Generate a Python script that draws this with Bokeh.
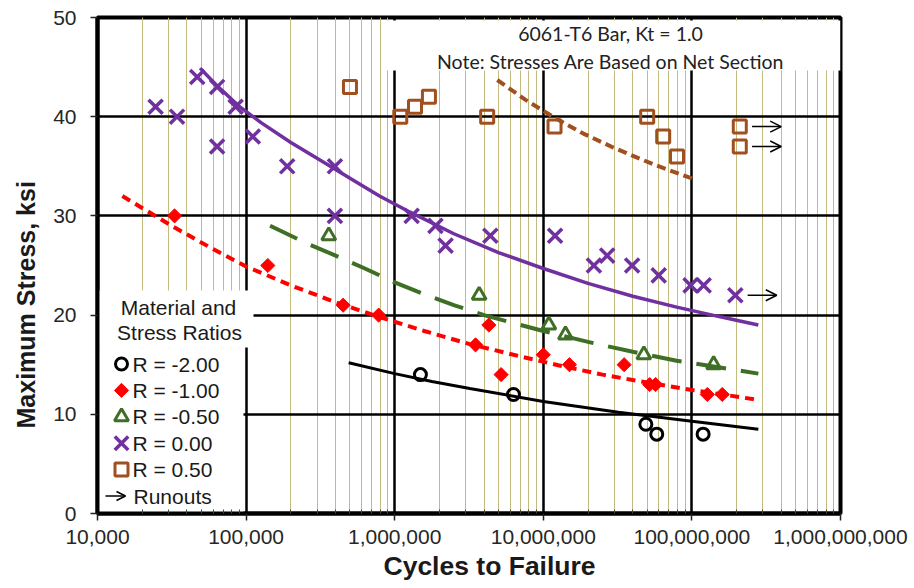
import math
from bokeh.plotting import figure
from bokeh.models import (Range1d, LinearScale, NumeralTickFormatter, FixedTicker,
                          Title, Arrow, OpenHead, ColumnDataSource)
from bokeh.core.properties import value
from bokeh.embed import file_html
from bokeh.resources import INLINE

# ---------------- data ----------------
# R = -2.00
rm2_N = [1.49e6, 6.3e6, 4.9e7, 5.8e7, 1.19e8]
rm2_S = [14, 12, 9, 8, 8]
rm2_fit_N = [4.9e5, 1e6, 1.78e6, 3.2e6, 1e7, 3.2e7, 1e8, 2.8e8]
rm2_fit_S = [15.2, 14.1, 13.3, 12.6, 11.3, 10.2, 9.3, 8.5]

# R = -1.00
rm1_N = [3.3e4, 1.4e5, 4.5e5, 7.8e5, 3.5e6, 4.3e6, 5.2e6, 1.0e7, 1.5e7, 3.5e7, 5.2e7, 5.7e7, 1.27e8, 1.6e8]
rm1_S = [30, 25, 21, 20, 17, 19, 14, 16, 15, 15, 13, 13, 12, 12]
rm1_fit_N = [1.47e4, 3.16e4, 5.6e4, 1e5, 2e5, 4e5, 7.9e5, 1.58e6, 3.16e6, 6.3e6,
             1.26e7, 2.5e7, 5e7, 1e8, 1.78e8, 2.8e8]
rm1_fit_S = [32.0, 29.0, 26.9, 24.9, 23.0, 21.3, 19.8, 18.4, 17.1, 16.0,
             14.95, 14.0, 13.2, 12.45, 11.9, 11.45]

# R = -0.50
rm05_N = [3.6e5, 3.7e6, 1.09e7, 1.41e7, 4.75e7, 1.4e8]
rm05_S = [28, 22, 19, 18, 16, 15]
rm05_fit_N = [1.45e5, 2.5e5, 4e5, 6.3e5, 1e6, 1.58e6, 2.5e6, 4e6, 6.3e6, 1e7,
              2e7, 4e7, 7.9e7, 1.58e8, 2.8e8]
rm05_fit_S = [29.0, 27.3, 26.0, 24.7, 23.3, 22.1, 21.0, 20.0, 19.2, 18.4,
              17.3, 16.3, 15.4, 14.7, 14.1]

# R = 0.00
r0_N = [2.46e4, 3.43e4, 4.69e4, 6.38e4, 6.38e4, 8.5e4, 1.11e5, 1.89e5, 3.96e5, 3.96e5,
        1.3e6, 1.88e6, 2.2e6, 4.4e6, 1.2e7, 2.19e7, 2.69e7, 3.96e7, 5.98e7, 9.8e7, 1.2e8, 1.96e8]
r0_S = [41, 40, 44, 43, 37, 41, 38, 35, 35, 30, 30, 29, 27, 28, 28, 25, 26, 25, 24, 23, 23, 22]
r0_fit_N = [4.9e4, 6.3e4, 8.9e4, 1.26e5, 2.0e5, 3.16e5, 5.0e5, 7.9e5, 1.26e6, 2.5e6,
            5.0e6, 1e7, 2.0e7, 4.0e7, 7.9e7, 1.58e8, 2.8e8]
r0_fit_S = [44.9, 43.2, 41.1, 39.4, 37.4, 35.6, 33.8, 32.0, 30.4, 28.2,
            26.3, 24.7, 23.2, 21.9, 20.8, 19.8, 19.0]

# R = 0.50
r05_N = [5.0e5, 1.09e6, 1.37e6, 1.70e6, 4.19e6, 1.19e7, 5.0e7, 6.41e7, 7.94e7, 2.1e8, 2.1e8]
r05_S = [43, 40, 41, 42, 40, 39, 40, 38, 36, 39, 37]
r05_fit_N = [4.9e6, 7.6e6, 1.19e7, 1.86e7, 2.95e7, 5.5e7, 1.03e8]
r05_fit_S = [43.7, 41.7, 39.9, 38.3, 36.9, 35.2, 33.7]

# runouts
runout_N = [1.96e8, 2.1e8, 2.1e8]
runout_S = [22, 39, 37]

x_ticks = [1e4, 1e5, 1e6, 1e7, 1e8, 1e9]
y_ticks = [0, 10, 20, 30, 40, 50]

legend_labels = ["R =  -2.00", "R =  -1.00", "R =  -0.50", "R =  0.00", "R =  0.50"]
note_lines = ["6061-T6 Bar, Kt = 1.0", "Note: Stresses Are Based on Net Section"]

# ---------------- colours ----------------
C_BLACK = "#000000"
C_RED = "#ff0000"
C_GREEN = "#3f6e25"
C_PURPLE = "#7030a0"
C_BROWN = "#a0501e"
C_MINOR = "#c4bb80"

FW, FH = 743, 496

p = figure(x_axis_type="log", x_range=Range1d(1e4, 1e9), y_range=Range1d(0, 50),
           frame_width=FW, frame_height=FH,
           min_border_left=97, min_border_top=17, min_border_right=74, min_border_bottom=75,
           output_backend="svg", toolbar_location=None,
           background_fill_color="white", border_fill_color="white")

p.extra_x_ranges = {"px": Range1d(0, FW)}
p.extra_y_ranges = {"px": Range1d(FH, 0)}
p.extra_x_scales = {"px": LinearScale()}
p.extra_y_scales = {"px": LinearScale()}

minor = [m * 10 ** k for k in range(4, 9) for m in range(2, 10)]
p.xaxis.ticker = FixedTicker(ticks=x_ticks, minor_ticks=minor)
p.yaxis.ticker = FixedTicker(ticks=y_ticks)
p.xaxis.formatter = NumeralTickFormatter(format="0,0")

p.xgrid.grid_line_color = "black"
p.xgrid.grid_line_width = 2.5
p.xgrid.minor_grid_line_color = C_MINOR
p.xgrid.minor_grid_line_width = 1
p.ygrid.grid_line_color = "black"
p.ygrid.grid_line_width = 2.5

for ax in (p.xaxis, p.yaxis):
    ax.axis_line_width = 4
    ax.axis_line_color = "black"
    ax.major_tick_line_width = 1.5
    ax.major_tick_line_color = "#222222"
    ax.major_tick_out = 7
    ax.major_tick_in = 0
    ax.major_label_text_font = "Liberation Sans"
    ax.major_label_text_font_size = "21px"
    ax.major_label_text_color = "#262626"
p.xaxis.minor_tick_in = 4
p.xaxis.minor_tick_out = 0
p.xaxis.minor_tick_line_color = "#444444"
p.xaxis.major_label_standoff = 9
p.yaxis.minor_tick_line_color = None
p.yaxis.major_label_standoff = 14

p.outline_line_color = "black"
p.outline_line_width = 4

# axis titles (as side titles so they can be shifted like in the reference)
p.add_layout(Title(text="Maximum Stress, ksi", align="left", offset=85, standoff=19,
                   vertical_align="middle", text_font="Liberation Sans", text_font_size="25px",
                   text_font_style="bold", text_color="#1a1a1a"), "left")
p.add_layout(Title(text="Cycles to Failure", align="left", offset=286, standoff=6,
                   vertical_align="middle", text_font="Liberation Sans", text_font_size="26.5px",
                   text_font_style="bold", text_color="#1a1a1a"), "below")

# white boxes (note box, legend title box, legend items box), in frame pixels
p.quad(left=[286, 0, 0], right=[FW, 156, 146], top=[3, 273, 330], bottom=[53, 330, FH],
       x_range_name="px", y_range_name="px", fill_color="white", line_color=None)

# ---------------- fit curves ----------------
p.line(rm2_fit_N, rm2_fit_S, line_color=C_BLACK, line_width=3)
p.line(rm1_fit_N, rm1_fit_S, line_color=C_RED, line_width=4, line_dash="9 6")
p.line(rm05_fit_N, rm05_fit_S, line_color=C_GREEN, line_width=4, line_dash="30 15")
p.line(r0_fit_N, r0_fit_S, line_color=C_PURPLE, line_width=3.5)
p.line(r05_fit_N, r05_fit_S, line_color=C_BROWN, line_width=4, line_dash="9 5")

# ---------------- data points ----------------
p.scatter(rm2_N, rm2_S, marker="circle", size=12, fill_color=None, line_color=C_BLACK, line_width=3)
p.scatter(rm1_N, rm1_S, marker="square", angle=math.pi / 4, size=10, fill_color=C_RED, line_color=C_RED, line_width=1)
p.scatter(rm05_N, rm05_S, marker="triangle", size=14, fill_color=None, line_color=C_GREEN, line_width=3)
p.scatter(r0_N, r0_S, marker="x", size=20, line_color=C_PURPLE, line_width=3.5)
p.scatter(r05_N, r05_S, marker="square", size=13, fill_color=None, line_color=C_BROWN, line_width=3)

# runout arrows
ro_src = ColumnDataSource(dict(x0=[n * 1.21 for n in runout_N], x1=[n * 1.9 for n in runout_N], y=runout_S))
p.add_layout(Arrow(x_start="x0", x_end="x1", y_start="y", y_end="y", source=ro_src,
                   line_width=1.5, line_color="black",
                   end=OpenHead(size=11, line_width=1.5, line_color="black")))

# ---------------- note text ----------------
p.text(x=[513, 513], y=[16, 44], text=note_lines, x_range_name="px", y_range_name="px",
       text_font=value("Lato"), text_font_size=value("19.5px"), text_color="#222222",
       text_align="center", text_baseline="middle")

# ---------------- legend ----------------
p.text(x=[81, 82], y=[290, 315], text=["Material and", "Stress Ratios"], x_range_name="px", y_range_name="px",
       text_font=value("Liberation Sans"), text_font_size=value("21px"), text_color="#1a1a1a",
       text_align="center", text_baseline="middle")
rows = [346.5, 372.9, 399.3, 425.7, 452.1, 478.5]
lx = 24
p.scatter([lx], [rows[0]], marker="circle", size=12, fill_color=None, line_color=C_BLACK, line_width=3,
          x_range_name="px", y_range_name="px")
p.scatter([lx], [rows[1]], marker="square", angle=math.pi / 4, size=10, fill_color=C_RED, line_color=C_RED,
          x_range_name="px", y_range_name="px")
p.scatter([lx], [rows[2]], marker="triangle", size=14, fill_color=None, line_color=C_GREEN, line_width=3,
          x_range_name="px", y_range_name="px")
p.scatter([lx], [rows[3]], marker="x", size=19, line_color=C_PURPLE, line_width=3.5,
          x_range_name="px", y_range_name="px")
p.scatter([lx], [rows[4]], marker="square", size=13, fill_color=None, line_color=C_BROWN, line_width=3,
          x_range_name="px", y_range_name="px")
p.text(x=[35] * 5, y=rows[:5], text=legend_labels, x_range_name="px", y_range_name="px",
       text_font=value("Liberation Sans"), text_font_size=value("21px"), text_color="#1a1a1a",
       text_align="left", text_baseline="middle")
p.add_layout(Arrow(x_start=8, x_end=28, y_start=rows[5], y_end=rows[5], x_range_name="px", y_range_name="px",
                   line_width=1.5, line_color="black",
                   end=OpenHead(size=9, line_width=1.5, line_color="black")))
p.text(x=[36], y=[rows[5]], text=["Runouts"], x_range_name="px", y_range_name="px",
       text_font=value("Liberation Sans"), text_font_size=value("21px"), text_color="#1a1a1a",
       text_align="left", text_baseline="middle")

open("out.html", "w").write(file_html(p, INLINE))
